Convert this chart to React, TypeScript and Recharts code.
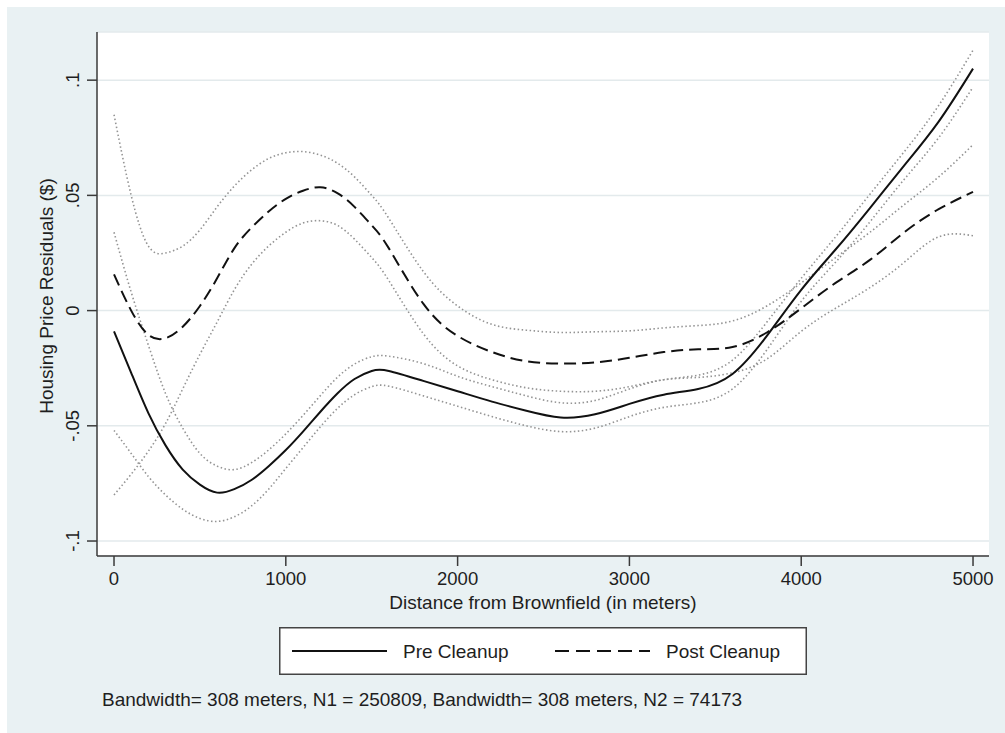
import React from "react";
import { LineChart, Line, XAxis, YAxis, CartesianGrid, Legend } from "recharts";

// Distance from brownfield (m)
const distances = [0, 100, 200, 300, 400, 500, 600, 700, 800, 900, 1000, 1100, 1200, 1300, 1400, 1500, 1600,
  1800, 2000, 2200, 2400, 2600, 2800, 3000, 3200, 3400, 3600, 3800, 4000, 4200, 4400, 4600, 4800, 5000];

// Pre Cleanup estimate and CI
const preCleanup = [-0.009, -0.027, -0.0445, -0.0585, -0.069, -0.0755, -0.079, -0.0775, -0.0735, -0.0675, -0.0605, -0.0525, -0.044, -0.036, -0.0297, -0.0262, -0.0262,
  -0.0305, -0.035, -0.0395, -0.0435, -0.0464, -0.045, -0.0405, -0.0365, -0.034, -0.0275, -0.011, 0.009, 0.0265, 0.0445, 0.063, 0.082, 0.105];
const preUpper = [0.034, 0.008, -0.015, -0.036, -0.051, -0.062, -0.0675, -0.069, -0.066, -0.0605, -0.0535, -0.0455, -0.037, -0.029, -0.0232, -0.0200, -0.0198,
  -0.023, -0.0285, -0.033, -0.037, -0.04, -0.039, -0.034, -0.03, -0.028, -0.0215, -0.005, 0.014, 0.032, 0.0505, 0.069, 0.089, 0.113];
const preLower = [-0.052, -0.062, -0.072, -0.08, -0.0862, -0.0902, -0.0915, -0.0895, -0.0848, -0.0775, -0.0685, -0.0595, -0.0505, -0.0425, -0.0365, -0.0330, -0.0328,
  -0.037, -0.0415, -0.046, -0.05, -0.0525, -0.051, -0.046, -0.042, -0.04, -0.034, -0.017, 0.004, 0.021, 0.0385, 0.057, 0.075, 0.097];

// Post Cleanup estimate and CI
const postCleanup = [0.0157, 0.0, -0.0105, -0.012, -0.007, 0.002, 0.014, 0.027, 0.036, 0.043, 0.0485, 0.052, 0.0535, 0.051, 0.045, 0.037, 0.027,
  0.003, -0.011, -0.018, -0.022, -0.023, -0.0225, -0.0205, -0.018, -0.0168, -0.0158, -0.0095, 0.001, 0.012, 0.022, 0.034, 0.044, 0.0515];
const postUpper = [0.085, 0.05, 0.028, 0.025, 0.028, 0.035, 0.045, 0.054, 0.061, 0.066, 0.0685, 0.069, 0.0675, 0.064, 0.058, 0.05, 0.04,
  0.017, 0.002, -0.006, -0.0085, -0.0095, -0.0092, -0.0088, -0.0075, -0.0065, -0.0045, 0.002, 0.012, 0.023, 0.034, 0.046, 0.058, 0.072];
const postLower = [-0.08, -0.071, -0.061, -0.049, -0.034, -0.019, -0.005, 0.009, 0.02, 0.028, 0.034, 0.038, 0.039, 0.037, 0.031, 0.023, 0.013,
  -0.01, -0.024, -0.03, -0.0335, -0.035, -0.035, -0.033, -0.03, -0.029, -0.027, -0.021, -0.009, 0.001, 0.01, 0.021, 0.032, 0.0325];

const xTicks = [0, 1000, 2000, 3000, 4000, 5000];
const yTicks = [-0.1, -0.05, 0, 0.05, 0.1];
const yTickLabels = ["-.1", "-.05", "0", ".05", ".1"];
const legendOrder = ["Pre Cleanup", "Post Cleanup"];

const xTitle = "Distance from Brownfield (in meters)";
const yTitle = "Housing Price Residuals ($)";
const footnote = "Bandwidth= 308 meters, N1 = 250809, Bandwidth= 308 meters, N2 = 74173";

const data = distances.map((d, i) => ({
  d,
  pre: preCleanup[i],
  preHi: preUpper[i],
  preLo: preLower[i],
  post: postCleanup[i],
  postHi: postUpper[i],
  postLo: postLower[i],
}));

const FONT = "'Liberation Sans', Arial, Helvetica, sans-serif";
const TEXT = "#1e1e1e";
const AXIS = "#3a3a3a";
const DOT = "#949494";
const CURVE = "natural";

const YTick = (props: any) => {
  const { x, y, payload } = props;
  const idx = yTicks.indexOf(payload.value);
  const label = idx >= 0 ? yTickLabels[idx] : String(payload.value);
  const bx = x - 6;
  return (
    <text x={bx} y={y} transform={`rotate(-90 ${bx} ${y})`} textAnchor="middle" fontSize={18.5} fill={TEXT} fontFamily={FONT}>
      {label}
    </text>
  );
};

const YTitle = (props: any) => {
  const vb = props.viewBox || { x: 37, y: 32, width: 60, height: 524 };
  const cx = vb.x + 16;
  const cy = vb.y + vb.height / 2 + 2;
  return (
    <text x={cx} y={cy} transform={`rotate(-90 ${cx} ${cy})`} textAnchor="middle" fontSize={19} fill={TEXT} fontFamily={FONT}>
      {yTitle}
    </text>
  );
};

const LegendBox = (props: any) => {
  const items = (props.payload || [])
    .filter((p: any) => p.type !== "none" && legendOrder.indexOf(p.value) >= 0)
    .sort((a: any, b: any) => legendOrder.indexOf(a.value) - legendOrder.indexOf(b.value));
  return (
    <svg width={528} height={48} style={{ display: "block" }}>
      <rect x={0.75} y={0.75} width={526.5} height={46.5} fill="#ffffff" stroke="#444" strokeWidth={1.5} />
      {items.map((it: any, i: number) => {
        const lx = i === 0 ? 13 : 276;
        const dashed = it.payload && it.payload.strokeDasharray;
        return (
          <g key={i}>
            <line x1={lx} x2={lx + 95} y1={24} y2={24} stroke="#111" strokeWidth={2} strokeDasharray={dashed ? "14 7" : undefined} />
            <text x={lx + 111} y={31} fontSize={19} fill={TEXT} fontFamily={FONT}>{it.value}</text>
          </g>
        );
      })}
    </svg>
  );
};

export default function App() {
  return (
    <div style={{ position: "absolute", left: 0, top: 0, width: 1005, height: 733, background: "#ffffff" }}>
      <div style={{ position: "absolute", left: 7, top: 7, width: 998, height: 726, background: "#e9f1f3" }} />
      <div style={{ position: "absolute", left: 0, top: 0 }}>
        <LineChart width={1005} height={733} data={data} margin={{ top: 32, right: 16, left: 37, bottom: 147 }}>
          <CartesianGrid horizontal={true} vertical={false} fill="#ffffff" stroke="#e3eaec" strokeWidth={1.5} />
          <XAxis
            dataKey="d"
            type="number"
            domain={[-99, 5093]}
            ticks={xTicks}
            allowDataOverflow
            height={30}
            tickSize={10}
            tickMargin={6}
            stroke={AXIS}
            strokeWidth={1.5}
            tick={{ fill: TEXT, fontSize: 18.5, fontFamily: FONT }}
            label={{ value: xTitle, position: "bottom", offset: 10, fill: TEXT, fontSize: 19, fontFamily: FONT }}
          />
          <YAxis
            type="number"
            domain={[-0.1065, 0.1209]}
            ticks={yTicks}
            allowDataOverflow
            width={60}
            tickSize={10}
            stroke={AXIS}
            strokeWidth={1.5}
            tick={<YTick />}
            label={<YTitle />}
          />
          <Legend
            layout="vertical"
            align="center"
            verticalAlign="middle"
            content={<LegendBox />}
            wrapperStyle={{ position: "absolute", left: 279, top: 627, width: 528, height: 48 }}
          />
          <Line dataKey="preHi" type={CURVE} stroke={DOT} strokeWidth={1.6} strokeDasharray="1.5 2.5" dot={false} isAnimationActive={false} legendType="none" />
          <Line dataKey="preLo" type={CURVE} stroke={DOT} strokeWidth={1.6} strokeDasharray="1.5 2.5" dot={false} isAnimationActive={false} legendType="none" />
          <Line dataKey="postHi" type={CURVE} stroke={DOT} strokeWidth={1.6} strokeDasharray="1.5 2.5" dot={false} isAnimationActive={false} legendType="none" />
          <Line dataKey="postLo" type={CURVE} stroke={DOT} strokeWidth={1.6} strokeDasharray="1.5 2.5" dot={false} isAnimationActive={false} legendType="none" />
          <Line dataKey="pre" name="Pre Cleanup" type={CURVE} stroke="#111" strokeWidth={2} dot={false} isAnimationActive={false} />
          <Line dataKey="post" name="Post Cleanup" type={CURVE} stroke="#111" strokeWidth={2} strokeDasharray="12 6" dot={false} isAnimationActive={false} />
        </LineChart>
      </div>
      <div style={{ position: "absolute", left: 102, top: 688, fontFamily: FONT, fontSize: 19, color: TEXT, whiteSpace: "nowrap", lineHeight: "24px" }}>
        {footnote}
      </div>
    </div>
  );
}
